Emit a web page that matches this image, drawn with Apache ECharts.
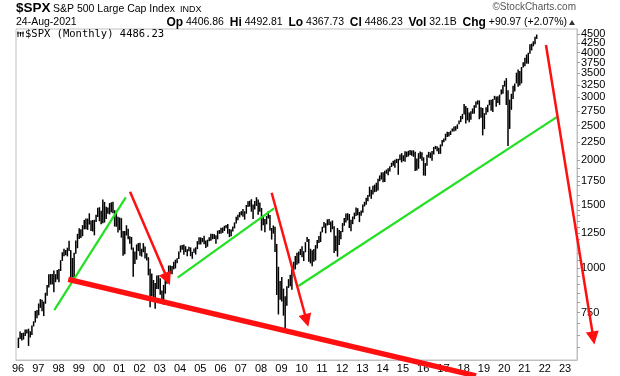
<!DOCTYPE html>
<html><head><meta charset="utf-8">
<script src="https://cdn.jsdelivr.net/npm/echarts@6/dist/echarts.min.js"></script>
<style>html,body{margin:0;padding:0;background:#fff}#c{width:620px;height:376px}</style>
</head><body><div id="c"></div>
<script>
// ---- data: monthly S&P 500 ranges, Jan 1996 .. Aug 2021 ----
const startYear = 1996;
const highs = [
638,664,657,659,672,673,676,665,690,709,758,762,
795,818,815,805,852,895,960,961,961,983,960,986,
993,1051,1106,1131,1122,1139,1191,1121,1066,1103,1192,1245,
1290,1282,1317,1362,1375,1374,1421,1356,1361,1363,1409,1474,
1478,1445,1553,1529,1482,1475,1518,1525,1530,1450,1440,1390,
1383,1377,1268,1269,1316,1287,1226,1220,1141,1111,1163,1173,
1176,1131,1173,1147,1099,1071,994,965,925,907,952,954,
935,865,896,924,965,1015,1016,1012,1040,1054,1064,1112,
1155,1158,1163,1150,1128,1146,1141,1109,1132,1142,1188,1218,
1217,1212,1229,1192,1199,1219,1245,1245,1243,1233,1271,1276,
1295,1297,1311,1319,1326,1284,1281,1306,1340,1390,1408,1432,
1441,1462,1440,1499,1535,1541,1556,1504,1539,1576,1554,1524,
1471,1396,1369,1397,1440,1405,1293,1314,1304,1167,1007,919,
943,875,833,888,930,956,996,1040,1080,1102,1111,1130,
1150,1113,1180,1220,1205,1131,1120,1129,1158,1196,1228,1263,
1303,1344,1333,1367,1371,1347,1357,1308,1230,1293,1277,1268,
1334,1378,1420,1422,1415,1364,1392,1427,1475,1467,1434,1448,
1504,1530,1570,1598,1687,1654,1698,1709,1730,1776,1814,1849,
1851,1868,1884,1898,1925,1968,1992,2005,2019,2018,2076,2094,
2065,2120,2114,2126,2135,2130,2133,2113,2021,2094,2117,2105,
2038,1963,2073,2111,2103,2121,2178,2194,2188,2169,2214,2278,
2301,2372,2401,2399,2418,2454,2484,2491,2520,2582,2658,2695,
2873,2835,2801,2718,2743,2791,2848,2917,2941,2940,2815,2800,
2708,2814,2861,2950,2954,2965,3028,3014,3022,3050,3155,3248,
3338,3393,3137,2955,3068,3233,3280,3514,3588,3550,3646,3760,
3870,3950,3995,4218,4238,4302,4430,4493
];
const lows = [
597,633,627,630,645,655,605,639,649,686,703,723,
737,773,756,733,794,836,882,898,898,855,912,928,
912,980,1046,1077,1085,1077,1114,939,940,923,1096,1135,
1205,1212,1226,1282,1282,1277,1322,1268,1264,1233,1343,1387,
1350,1325,1332,1339,1370,1418,1411,1430,1421,1305,1303,1255,
1275,1215,1081,1091,1232,1203,1168,1124,944,1026,1054,1114,
1081,1075,1106,1063,1049,953,776,833,815,769,873,872,
841,807,789,847,903,964,962,960,990,996,1031,1058,
1105,1124,1088,1107,1077,1113,1078,1060,1102,1090,1128,1163,
1163,1180,1164,1137,1146,1188,1191,1202,1205,1168,1202,1245,
1245,1253,1268,1291,1245,1219,1225,1264,1290,1331,1360,1385,
1403,1389,1364,1417,1481,1484,1436,1371,1457,1490,1407,1435,
1271,1316,1257,1324,1374,1272,1200,1247,1107,840,741,815,
805,735,667,784,879,888,869,979,991,1020,1029,1086,
1071,1045,1106,1181,1040,1029,1011,1040,1049,1132,1173,1181,
1257,1295,1249,1314,1319,1258,1283,1101,1115,1075,1159,1203,
1259,1312,1340,1358,1292,1267,1325,1368,1397,1403,1343,1398,
1426,1485,1502,1536,1582,1560,1605,1628,1633,1646,1747,1767,
1737,1738,1834,1815,1860,1915,1931,1905,1964,1821,2001,1972,
1988,1981,2040,2049,2068,2057,2045,1867,1872,1893,2019,1993,
1812,1810,1931,2034,2026,1992,2075,2148,2120,2083,2084,2187,
2245,2271,2322,2329,2353,2406,2407,2418,2447,2520,2557,2605,
2683,2533,2586,2553,2595,2698,2699,2803,2864,2604,2631,2347,
2444,2682,2722,2849,2750,2729,2953,2822,2892,2856,3051,3070,
3214,2855,2192,2447,2767,2966,3115,3280,3210,3234,3280,3634,
3663,3725,3723,3970,4056,4165,4223,4368
];
const xTickYears = [1996,1997,1998,1999,2000,2001,2002,2003,2004,2005,2006,2007,2008,2009,2010,2011,2012,2013,2014,2015,2016,2017,2018,2019,2020,2021,2022,2023];
const yTickLabelsA = [750,1250,1750,2250,2750,3250,3750,4250];
const yTickLabelsB = [1000,1500,2000,2500,3000,3500,4000,4500];
const yMinorTicks = [600,650,700,750,800,850,900,950,1000,1050,1100,1150,1200,1250,1300,1350,1400,1450,1500,1600,1700,1750,1800,1900,2000,2250,2500,2750,3000,3250,3500,3750,4000,4250,4500];
// trend annotations: [year, price] endpoints
const greenLines = [
  [[1997.79, 762], [2001.32, 1574]],
  [[2003.88, 939], [2008.64, 1467]],
  [[2009.84, 890], [2022.61, 2643]]
];
const redSupport = [[1998.48, 929], [2018.61, 499]];
const redArrows = [
  [[2001.53, 1633], [2003.50, 896]],
  [[2008.52, 1622], [2010.33, 684]],
  [[2022.06, 4201], [2024.45, 611]]
];

const FONT = '"Liberation Sans", Arial, sans-serif';
const LN_MIN = 6.3146, LN_MAX = 8.4459;
const bars = highs.map((h, i) => [startYear + Math.floor(i / 12) + (i % 12) / 12 + 0.02, Math.log(lows[i]), Math.log(h)]);
const priceFmt = v => String(Math.round(Math.exp(v)));

const chart = echarts.init(document.getElementById('c'), null, {renderer: 'canvas'});
const option = {
  animation: false,
  backgroundColor: '#fff',
  grid: {left: 16, right: 43, top: 29, bottom: 16, show: true, borderColor: '#c0c0c0', borderWidth: 1, containLabel: false},
  xAxis: {
    type: 'value', min: 1995.901, max: 2023.592,
    axisLine: {show: true, lineStyle: {color: '#c0c0c0'}},
    axisTick: {show: false},
    splitLine: {show: false},
    axisLabel: {customValues: xTickYears, color: '#000', fontFamily: FONT, fontSize: 11, margin: 3,
      hideOverlap: false, showMinLabel: true, showMaxLabel: true,
      formatter: v => String(Math.round(v) % 100).padStart(2, '0')}
  },
  yAxis: [{
    type: 'value', position: 'right', min: LN_MIN, max: LN_MAX,
    axisLine: {show: true, lineStyle: {color: '#c0c0c0'}},
    axisTick: {show: true, length: 3, lineStyle: {color: '#a0a0a0'}, customValues: yMinorTicks.map(Math.log)},
    splitLine: {show: false},
    axisLabel: {customValues: yTickLabelsA.map(Math.log), color: '#000', fontFamily: FONT, fontSize: 11, margin: 4,
      hideOverlap: false, showMinLabel: true, showMaxLabel: true, formatter: priceFmt}
  }, {
    type: 'value', position: 'left', offset: -561, min: LN_MIN, max: LN_MAX,
    axisLine: {show: false}, axisTick: {show: false}, splitLine: {show: false},
    axisLabel: {inside: true, customValues: yTickLabelsB.map(Math.log), color: '#000', fontFamily: FONT, fontSize: 11, margin: 4,
      hideOverlap: false, showMinLabel: true, showMaxLabel: true, formatter: priceFmt}
  }],
  series: [{
    type: 'custom',
    yAxisIndex: 0,
    data: bars,
    encode: {x: 0, y: [1, 2]},
    renderItem: (params, api) => {
      const x = api.value(0);
      const p1 = api.coord([x, api.value(1)]);
      const p2 = api.coord([x, api.value(2)]);
      return {type: 'line', shape: {x1: p1[0], y1: p1[1], x2: p2[0], y2: p2[1]}, style: {stroke: '#000', lineWidth: 1.5}};
    }
  }]
};
chart.setOption(option);

function px(p) { return chart.convertToPixel({xAxisIndex: 0, yAxisIndex: 0}, [p[0], Math.log(p[1])]); }
const g = [];
greenLines.forEach(l => {
  const a = px(l[0]), b = px(l[1]);
  g.push({type: 'line', z: 100, shape: {x1: a[0], y1: a[1], x2: b[0], y2: b[1]}, style: {stroke: '#22e022', lineWidth: 2.2}});
});
{
  const a = px(redSupport[0]), b = px(redSupport[1]);
  g.push({type: 'line', z: 101, shape: {x1: a[0], y1: a[1], x2: b[0], y2: b[1]}, style: {stroke: '#ff1010', lineWidth: 5.5}});
}
redArrows.forEach(l => {
  const a = px(l[0]), b = px(l[1]);
  const dx = b[0] - a[0], dy = b[1] - a[1], len = Math.hypot(dx, dy);
  const ux = dx / len, uy = dy / len, L = 13, W = 6.5;
  const bx = b[0] - ux * L, by = b[1] - uy * L;
  g.push({type: 'line', z: 101, shape: {x1: a[0], y1: a[1], x2: bx + ux * 2, y2: by + uy * 2}, style: {stroke: '#ff1010', lineWidth: 2.5}});
  g.push({type: 'polygon', z: 102, shape: {points: [[b[0], b[1]], [bx - uy * W, by + ux * W], [bx + uy * W, by - ux * W]]}, style: {fill: '#ff1010'}});
});
// header texts
g.push({type: 'text', z: 110, x: 16, y: 8.5, style: {text: '$SPX', font: 'bold 13.5px ' + FONT, fill: '#000', verticalAlign: 'middle'}});
g.push({type: 'text', z: 110, x: 53, y: 9, style: {text: 'S&P 500 Large Cap Index', font: '10.5px ' + FONT, fill: '#000', verticalAlign: 'middle'}});
g.push({type: 'text', z: 110, x: 180, y: 9.6, style: {text: 'INDX', font: '9px ' + FONT, fill: '#000', verticalAlign: 'middle'}});
g.push({type: 'text', z: 110, x: 576, y: 7.5, style: {text: '\u00A9StockCharts.com', font: '10px ' + FONT, fill: '#555', align: 'right', verticalAlign: 'middle'}});
g.push({type: 'text', z: 110, x: 16, y: 22.2, style: {text: '24-Aug-2021', font: '10.5px ' + FONT, fill: '#000', verticalAlign: 'middle'}});
g.push({type: 'text', z: 110, x: 567, y: 22.2, style: {
  text: '{b|Op} 4406.86  {b|Hi} 4492.81  {b|Lo} 4367.73  {b|Cl} 4486.23  {b|Vol} 32.1B  {b|Chg} +90.97 (+2.07%)',
  font: '10.5px ' + FONT, fill: '#000', align: 'right', verticalAlign: 'middle',
  rich: {b: {font: 'bold 12px ' + FONT, fill: '#000'}}
}});
g.push({type: 'polygon', z: 110, shape: {points: [[569, 25], [575, 25], [572, 20]]}, style: {fill: '#333'}});
g.push({type: 'text', z: 110, x: 25, y: 34.2, style: {text: '$SPX (Monthly) 4486.23', font: '10.5px "DejaVu Sans Mono", monospace', fill: '#000', verticalAlign: 'middle'}});
// small bar icon
[[18, 31.5, 37], [20.5, 32, 36.5], [23, 31.5, 37]].forEach(v => {
  g.push({type: 'line', z: 110, shape: {x1: v[0], y1: v[1], x2: v[0], y2: v[2]}, style: {stroke: '#000', lineWidth: 1}});
});
g.push({type: 'line', z: 110, shape: {x1: 17, y1: 33, x2: 24, y2: 33}, style: {stroke: '#000', lineWidth: 0.8}});
chart.setOption({graphic: g});
</script></body></html>
